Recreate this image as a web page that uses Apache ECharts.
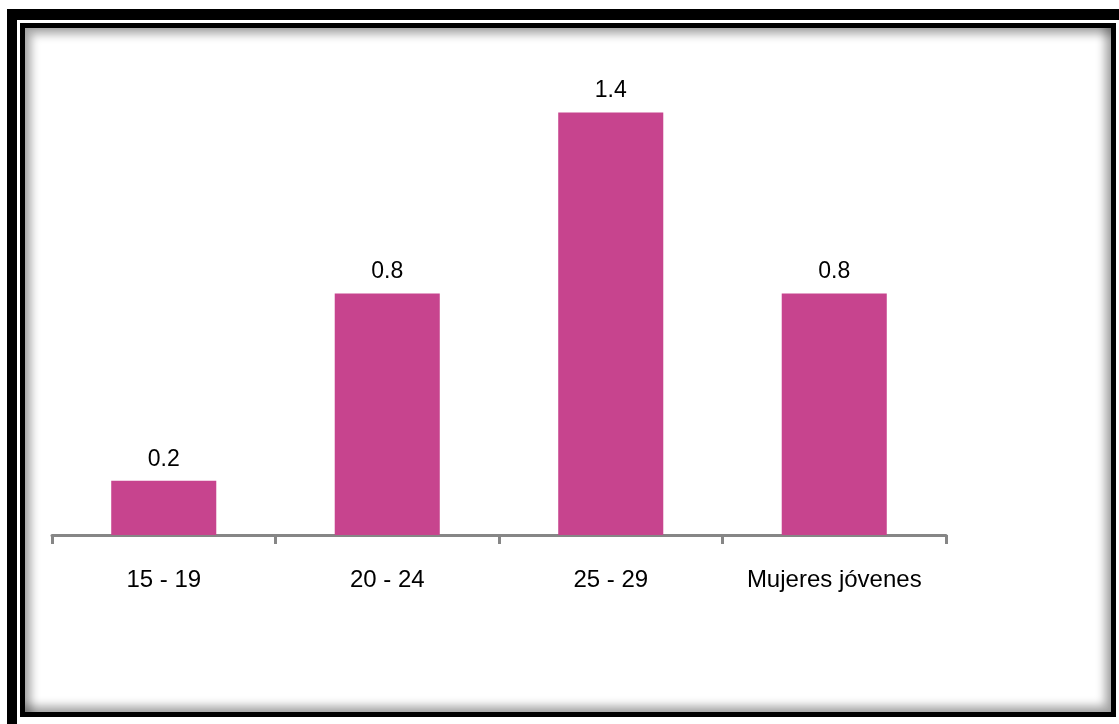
<!DOCTYPE html>
<html>
<head>
<meta charset="utf-8">
<script src="https://cdn.jsdelivr.net/npm/echarts@6/dist/echarts.min.js"></script>
<style>
  html, body { margin: 0; padding: 0; background: #fff; }
  .frame-outer {
    position: absolute; left: 7px; top: 9px; width: 1112px; height: 715px;
    background: #000;
  }
  .frame-gap {
    position: absolute; left: 17px; top: 20px; width: 1102px; height: 704px;
    background: #fff;
  }
  .frame-inner {
    position: absolute; left: 20px; top: 23px; width: 1096px; height: 694px;
    box-sizing: border-box; border: 5px solid #000; background: #fff;
    box-shadow: inset 6px 6px 10px rgba(0,0,0,0.35), inset -6px -6px 10px rgba(0,0,0,0.35);
  }
  #chart { position: absolute; left: 0; top: 0; width: 1119px; height: 724px; }
</style>
</head>
<body>
<div class="frame-outer"></div>
<div class="frame-gap"></div>
<div class="frame-inner"></div>
<div id="chart"></div>
<script>
// grupos de edad
const categories = ['15 - 19', '20 - 24', '25 - 29', 'Mujeres jóvenes'];
// valores
const values = [0.18, 0.8, 1.4, 0.8];

const mychart = echarts.init(document.getElementById('chart'));
mychart.setOption({
  animation: false,
  grid: { left: 52, right: 173, top: 52, bottom: 189 },
  xAxis: {
    type: 'category',
    data: categories,
    boundaryGap: true,
    axisLine: { lineStyle: { color: '#868686', width: 3 } },
    axisTick: { show: true, alignWithLabel: false, interval: 0, length: 9, lineStyle: { color: '#868686', width: 3 } },
    axisLabel: {
      interval: 0,
      hideOverlap: false,
      margin: 33,
      color: '#000',
      fontFamily: 'Liberation Sans, Arial, sans-serif',
      fontSize: 24
    }
  },
  yAxis: {
    type: 'value',
    min: 0,
    max: 1.6,
    show: false
  },
  series: [
    {
      type: 'bar',
      data: values,
      barWidth: '47%',
      itemStyle: { color: '#C7448E' },
      label: {
        show: true,
        position: 'top',
        distance: 10,
        color: '#000',
        fontFamily: 'Liberation Sans, Arial, sans-serif',
        fontSize: 23,
        formatter: p => p.value.toFixed(1)
      }
    }
  ]
});
</script>
</body>
</html>
